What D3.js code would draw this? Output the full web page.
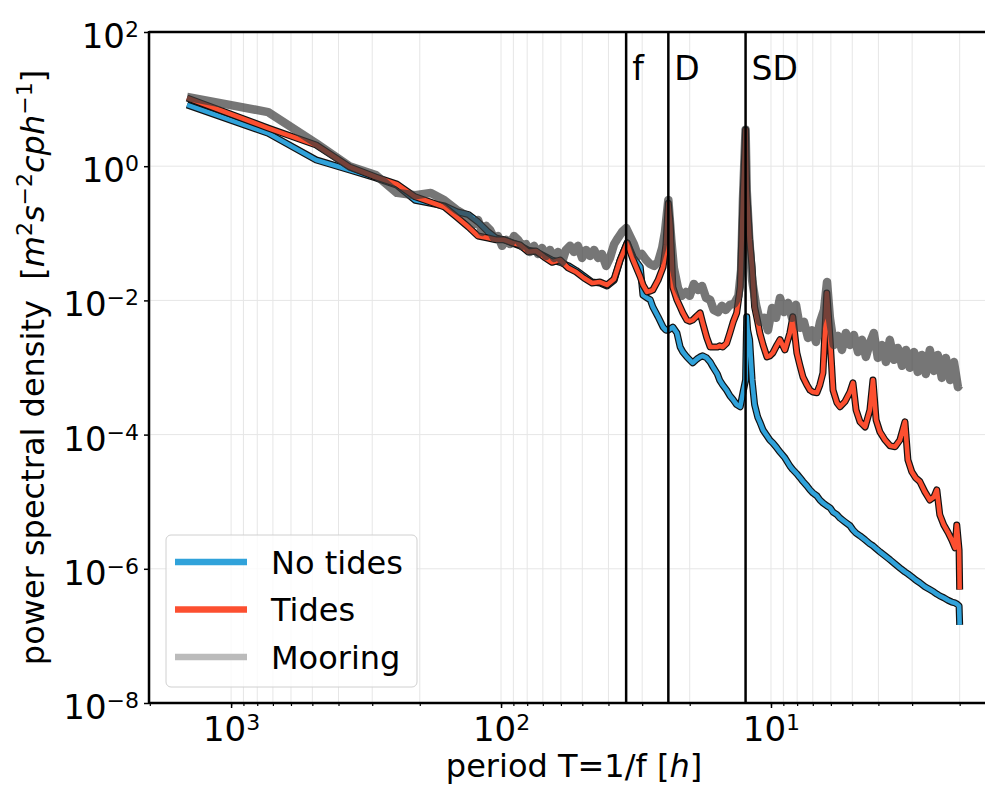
<!DOCTYPE html>
<html>
<head>
<meta charset="utf-8">
<script src="https://cdn.jsdelivr.net/npm/d3@7.9.0/dist/d3.min.js"></script>
<style>
  body { margin: 0; background: #fff; }
  svg text { font-family: "DejaVu Sans", sans-serif; fill: #000; }
</style>
</head>
<body>
<svg id="chart" width="985" height="788"></svg>
<script>
// model output: period T = 1/f in hours
const period = [
  1456, 729, 484, 364, 291, 243, 208, 182, 162, 146, 132,
  121.7, 111.7, 104.4, 97.5, 91.0, 85.0, 79.4, 74.2, 69.3, 64.7,
  60.4, 56.4, 52.7, 49.3, 46.0, 43.0, 40.5, 38.1, 36.2, 34.1,
  32.4, 30.5, 29.8, 28.8, 28.0, 27.4, 26.2, 25.1, 24.5, 24.0,
  23.6, 23.1, 22.3, 21.7, 21.2, 20.5, 20.0, 19.5, 18.8, 18.3,
  17.9, 17.3, 16.8, 16.4, 15.8, 15.5, 15.1, 14.6, 14.2, 13.8,
  13.4, 13.0, 12.7, 12.42, 12.3, 12.2, 12.0, 11.75, 11.5, 11.2,
  11.0, 10.7, 10.35, 10.1, 9.84, 9.50, 9.26, 8.88, 8.51, 8.30,
  8.02, 7.82, 7.61, 7.36, 7.17, 6.99, 6.76, 6.59, 6.42, 6.21,
  6.04, 5.89, 5.70, 5.55, 5.32, 5.10, 4.97, 4.84, 4.68, 4.48,
  4.30, 4.19, 4.08, 3.95, 3.78, 3.62, 3.47, 3.33, 3.19, 3.11,
  3.01, 2.91, 2.81, 2.69, 2.58, 2.49, 2.43, 2.37, 2.29, 2.21,
  2.14, 2.08, 2.05, 2.01, 2.00
];

// power spectral density [m^2 s^-2 cph^-1]
const noTides = [
  8.2, 3.1, 1.24, 0.88, 0.67, 0.52, 0.31, 0.28, 0.255, 0.21, 0.19,
  0.148, 0.105, 0.085, 0.080, 0.072, 0.065, 0.056, 0.053, 0.046, 0.040,
  0.037, 0.033, 0.028, 0.023, 0.0188, 0.0182, 0.0164, 0.020, 0.040, 0.072,
  0.044, 0.0315, 0.0120, 0.0109, 0.0102, 0.0080, 0.0057, 0.0040, 0.0036, 0.0036,
  0.00376, 0.0040, 0.00327, 0.00202, 0.0017, 0.00144, 0.0013, 0.00117, 0.00134, 0.00144,
  0.00149, 0.00139, 0.00121, 0.00102, 0.0008, 0.00065, 0.00055, 0.00046, 0.00038, 0.00033,
  0.00028, 0.00026, 0.00042, 0.00065, 0.0057, 0.0036, 0.0026, 0.00065, 0.00028, 0.000183,
  0.000155, 0.000117, 9.6e-5, 8.3e-5, 7.5e-5, 6.3e-5, 5.5e-5, 4.5e-5, 3.4e-5, 3.0e-5,
  2.6e-5, 2.3e-5, 2.0e-5, 1.72e-5, 1.5e-5, 1.35e-5, 1.22e-5, 1.06e-5, 9.6e-6, 8.7e-6,
  8.1e-6, 7.0e-6, 6.4e-6, 5.7e-6, 5.0e-6, 4.4e-6, 3.8e-6, 3.4e-6, 3.1e-6, 2.7e-6,
  2.35e-6, 2.2e-6, 2.0e-6, 1.79e-6, 1.56e-6, 1.36e-6, 1.18e-6, 1.03e-6, 9.0e-7, 8.4e-7,
  7.6e-7, 6.8e-7, 6.2e-7, 5.4e-7, 4.9e-7, 4.5e-7, 4.2e-7, 3.95e-7, 3.7e-7, 3.4e-7,
  3.2e-7, 3.1e-7, 3.0e-7, 2.8e-7, 1.46e-7
];

const tides = [
  10.4, 3.7, 2.07, 0.975, 0.69, 0.54, 0.35, 0.29, 0.247, 0.175, 0.124,
  0.091, 0.085, 0.080, 0.080, 0.072, 0.067, 0.053, 0.0546, 0.0444, 0.037,
  0.040, 0.0305, 0.0265, 0.0216, 0.0182, 0.0188, 0.017, 0.0209, 0.040, 0.072,
  0.040, 0.0224, 0.017, 0.0134, 0.0138, 0.0143, 0.020, 0.0315, 0.067, 0.28,
  0.133, 0.0158, 0.0102, 0.0080, 0.0065, 0.0051, 0.0049, 0.0051, 0.0059, 0.0065,
  0.0046, 0.0028, 0.00202, 0.00202, 0.00202, 0.0021, 0.00202, 0.0023, 0.00327, 0.0048,
  0.0065, 0.0158, 0.31, 3.5, 0.44, 0.247, 0.080, 0.0315, 0.0080, 0.0048,
  0.00327, 0.00217, 0.00144, 0.00149, 0.00165, 0.00217, 0.0026, 0.00183, 0.00327, 0.0057,
  0.00165, 0.00109, 0.00072, 0.00055, 0.00046, 0.00043, 0.00042, 0.00055, 0.00083, 0.0129,
  0.0026, 0.00046, 0.0003, 0.00026, 0.00031, 0.00043, 0.00059, 0.000233, 0.000155, 0.00013,
  0.000233, 0.00065, 0.000166, 0.00011, 8.3e-5, 6.8e-5, 6.6e-5, 8.3e-5, 0.000155, 4.2e-5,
  2.8e-5, 2.26e-5, 2.0e-5, 1.4e-5, 1.06e-5, 1.18e-5, 1.5e-5, 6.4e-6, 4.5e-6, 3.5e-6,
  2.7e-6, 2.05e-6, 4.5e-6, 1.9e-6, 4.9e-7
];

// mooring record: period in hours and spectral density
const mooringPeriod = [
  1456, 729, 484, 364, 291, 243, 208, 182, 162, 146, 132,
  125.9, 121.7, 117.5, 113.6, 109.8, 106.1, 102.6, 99.1, 95.8, 92.6,
  89.5, 86.5, 83.6, 80.8, 78.1, 75.5, 72.9, 70.5, 68.1, 65.9,
  63.6, 61.5, 59.4, 57.5, 55.5, 53.7, 51.9, 50.1, 48.4, 46.8,
  45.2, 43.7, 42.3, 40.8, 39.5, 38.1, 36.9, 35.6, 34.4, 33.3,
  32.2, 31.1, 30.1, 29.0, 28.1, 27.1, 26.2, 25.3, 24.7, 24.0,
  23.4, 22.9, 22.1, 21.4, 20.6, 20.0, 19.3, 18.6, 18.0, 17.4,
  16.8, 16.3, 15.7, 15.2, 14.7, 14.2, 13.7, 13.2, 12.9, 12.7,
  12.42, 12.3, 12.06, 11.75, 11.36, 10.98, 10.61, 10.26, 9.91, 9.58,
  9.26, 8.95, 8.65, 8.36, 8.08, 7.81, 7.55, 7.29, 7.05, 6.81,
  6.58, 6.36, 6.20, 6.05, 5.85, 5.65, 5.46, 5.28, 5.10, 4.93,
  4.76, 4.60, 4.45, 4.30, 4.16, 4.02, 3.88, 3.75, 3.63, 3.50,
  3.39, 3.27, 3.16, 3.06, 2.95, 2.86, 2.76, 2.67, 2.58, 2.49,
  2.41, 2.33, 2.25, 2.17, 2.10, 2.03, 2.00
];

const mooring = [
  10.8, 6.4, 2.2, 1.0, 0.74, 0.40, 0.37, 0.40, 0.31, 0.223, 0.175,
  0.138, 0.158, 0.105, 0.129, 0.112, 0.085, 0.091, 0.065, 0.080, 0.069,
  0.091, 0.080, 0.065, 0.069, 0.0527, 0.065, 0.0492, 0.0605, 0.046, 0.0565,
  0.043, 0.0527, 0.0374, 0.0565, 0.065, 0.0527, 0.065, 0.043, 0.0565, 0.046,
  0.0565, 0.043, 0.0492, 0.0327, 0.043, 0.069, 0.085, 0.105, 0.12, 0.091,
  0.069, 0.046, 0.0492, 0.040, 0.0349, 0.0327, 0.0374, 0.0605, 0.105, 0.314,
  0.080, 0.0305, 0.0153, 0.0117, 0.0134, 0.0117, 0.0176, 0.0143, 0.0164, 0.0109,
  0.0102, 0.0072, 0.0067, 0.0083, 0.0072, 0.0086, 0.0089, 0.0117, 0.0284, 0.314,
  3.5, 0.44, 0.094, 0.0202, 0.0086, 0.0048, 0.0055, 0.0036, 0.0077, 0.0055,
  0.0109, 0.0067, 0.0092, 0.0055, 0.0086, 0.0039, 0.0048, 0.00276, 0.0036, 0.0024,
  0.0048, 0.0072, 0.0188, 0.0055, 0.00217, 0.00296, 0.00183, 0.00327, 0.00217, 0.00305,
  0.0017, 0.00258, 0.00144, 0.00232, 0.00327, 0.00139, 0.00217, 0.00121, 0.00258, 0.0013,
  0.00196, 0.00106, 0.00183, 0.00099, 0.0017, 0.00086, 0.00154, 0.0008, 0.00183, 0.00089,
  0.00154, 0.0007, 0.00139, 0.00065, 0.00121, 0.00051, 0.00055
];

// reference periods: inertial, diurnal, semidiurnal
const markerLabels = ["f", "D", "SD"];
const markerPeriods = [34.4, 24.0, 12.42];

const xTickValues = [1000, 100, 10];
const yTickValues = [1e-8, 1e-6, 1e-4, 1e-2, 1, 1e2];

const seriesNames = ["No tides", "Tides", "Mooring"];

const svg = d3.select("#chart");
const m = { left: 149, right: 999, top: 32, bottom: 703 };

const x = d3.scaleLog().domain([2014, 1.43]).range([m.left, m.right]);
const y = d3.scaleLog().domain([1e-8, 1e2]).range([m.bottom, m.top]);

// grid
const minorX = x.ticks().filter(d => d <= 2014 && d >= 1.43);
svg.append("g").selectAll("line").data(minorX).join("line")
  .attr("x1", d => x(d)).attr("x2", d => x(d))
  .attr("y1", m.top).attr("y2", m.bottom)
  .attr("stroke", "#e6e6e6").attr("stroke-width", 1);
svg.append("g").selectAll("line").data(yTickValues.slice(1, -1)).join("line")
  .attr("x1", m.left).attr("x2", m.right)
  .attr("y1", d => y(d)).attr("y2", d => y(d))
  .attr("stroke", "#e6e6e6").attr("stroke-width", 1);

// curves
const line = d3.line()
  .x(d => x(d[0]))
  .y(d => y(d[1]));

const zip = (ps, vals) => ps.map((p, i) => [p, vals[i]]);

function outlined(vals, color) {
  svg.append("path").datum(zip(period, vals))
    .attr("d", line).attr("fill", "none")
    .attr("stroke", "#111").attr("stroke-width", 7)
    .attr("stroke-linejoin", "round");
  svg.append("path").datum(zip(period, vals))
    .attr("d", line).attr("fill", "none")
    .attr("stroke", color).attr("stroke-width", 4.6)
    .attr("stroke-linejoin", "round");
}
outlined(noTides, "#30a2da");
outlined(tides, "#fc4f30");

svg.append("path").datum(zip(mooringPeriod, mooring))
  .attr("d", line).attr("fill", "none")
  .attr("stroke", "#3c3c3c").attr("stroke-opacity", 0.7)
  .attr("stroke-width", 8.5).attr("stroke-linejoin", "round");

// f, D, SD lines
markerPeriods.forEach((p, i) => {
  svg.append("line")
    .attr("x1", x(p)).attr("x2", x(p))
    .attr("y1", m.top).attr("y2", m.bottom)
    .attr("stroke", "#000").attr("stroke-width", 2.5);
  svg.append("text")
    .attr("x", x(p) + 6).attr("y", 80)
    .attr("font-size", 33)
    .text(markerLabels[i]);
});

// axes
const xAxis = svg.append("g")
  .attr("transform", `translate(0,${m.bottom})`)
  .call(d3.axisBottom(x).tickValues(minorX).tickSize(3).tickFormat(""));
xAxis.select(".domain").remove();
xAxis.selectAll(".tick line").attr("stroke-width", 1.2);

const xMajor = svg.append("g")
  .attr("transform", `translate(0,${m.bottom})`)
  .call(d3.axisBottom(x).tickValues(xTickValues).tickSize(5).tickFormat(() => "10"));
xMajor.select(".domain").remove();
xMajor.attr("font-family", null).attr("font-size", null);
xMajor.selectAll(".tick line").attr("stroke-width", 1.5);
xMajor.selectAll(".tick text")
  .attr("y", 38).attr("dy", null)
  .attr("font-size", 34)
  .append("tspan")
  .attr("font-size", 22).attr("dy", -11)
  .text(d => Math.round(Math.log10(d)));

const yAxis = svg.append("g")
  .attr("transform", `translate(${m.left},0)`)
  .call(d3.axisLeft(y).tickValues(yTickValues).tickSize(5).tickFormat(() => "10"));
yAxis.select(".domain").remove();
yAxis.attr("font-family", null).attr("font-size", null);
yAxis.selectAll(".tick line").attr("stroke-width", 1.5);
yAxis.selectAll(".tick text")
  .attr("x", -10).attr("dy", 15.5)
  .attr("font-size", 34)
  .append("tspan")
  .attr("font-size", 22).attr("dy", -11)
  .text(d => {
    const e = Math.round(Math.log10(d));
    return e < 0 ? "\u2212" + (-e) : String(e);
  });

// spines
svg.append("line").attr("x1", m.left).attr("x2", m.left).attr("y1", m.top - 1).attr("y2", m.bottom + 1)
  .attr("stroke", "#000").attr("stroke-width", 2.5);
svg.append("line").attr("x1", m.left).attr("x2", m.right).attr("y1", m.bottom).attr("y2", m.bottom)
  .attr("stroke", "#000").attr("stroke-width", 2.5);
svg.append("line").attr("x1", m.left).attr("x2", m.right).attr("y1", m.top).attr("y2", m.top)
  .attr("stroke", "#000").attr("stroke-width", 2.5);

// axis labels
const xl = svg.append("text")
  .attr("x", (m.left + m.right) / 2).attr("y", 777)
  .attr("text-anchor", "middle").attr("font-size", 32);
xl.append("tspan").text("period T=1/f [");
xl.append("tspan").attr("font-style", "italic").text("h");
xl.append("tspan").text("]");

const yl = svg.append("text")
  .attr("transform", `translate(44,${(m.top + m.bottom) / 2}) rotate(-90)`)
  .attr("text-anchor", "middle").attr("font-size", 32)
  .style("white-space", "pre");
yl.append("tspan").text("power spectral density  [");
yl.append("tspan").attr("font-style", "italic").text("m");
yl.append("tspan").attr("font-size", 22).attr("dy", -12).text("2");
yl.append("tspan").attr("font-style", "italic").attr("dy", 12).text("s");
yl.append("tspan").attr("font-size", 22).attr("dy", -12).text("\u22122");
yl.append("tspan").attr("font-style", "italic").attr("dy", 12).text("cph");
yl.append("tspan").attr("font-size", 22).attr("dy", -12).text("\u22121");
yl.append("tspan").attr("dy", 12).text("]");

// legend
const legendColors = ["#30a2da", "#fc4f30", "#bbbbbb"];
const lg = svg.append("g");
lg.append("rect")
  .attr("x", 166).attr("y", 535).attr("width", 251).attr("height", 152)
  .attr("rx", 5).attr("fill", "#fff").attr("fill-opacity", 0.8)
  .attr("stroke", "#d0d0d0").attr("stroke-width", 1);
seriesNames.forEach((name, i) => {
  const ly = 562 + i * 47.5;
  lg.append("line")
    .attr("x1", 175).attr("x2", 247).attr("y1", ly).attr("y2", ly)
    .attr("stroke", legendColors[i]).attr("stroke-width", 6.5);
  lg.append("text")
    .attr("x", 271).attr("y", ly + 11.5)
    .attr("font-size", 32)
    .text(name);
});
</script>
</body>
</html>
